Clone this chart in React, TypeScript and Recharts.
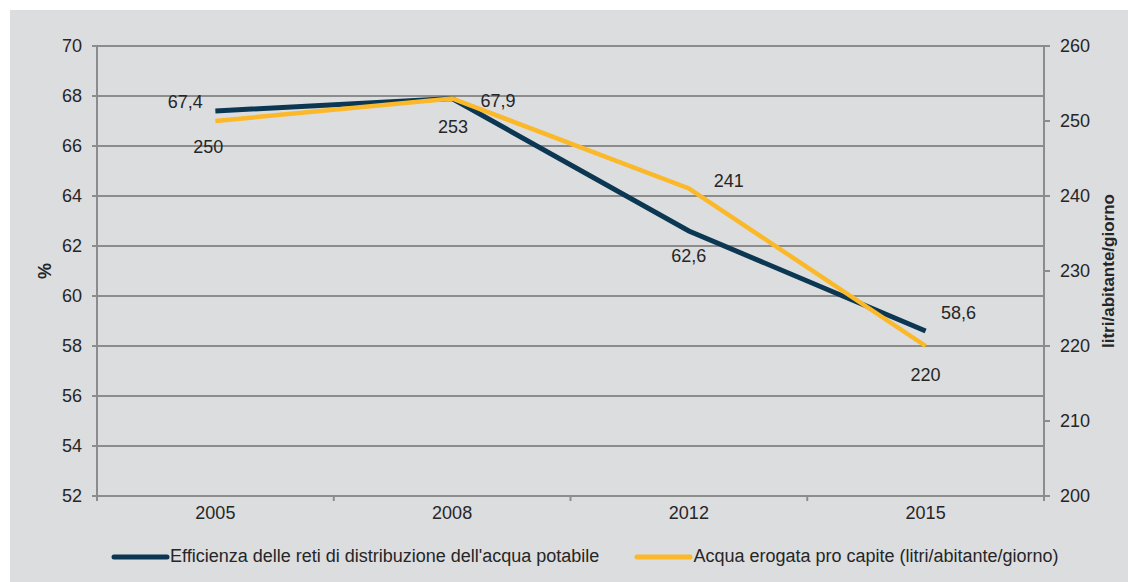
// WaterChart — efficienza reti idriche vs acqua erogata pro capite
import { LineChart, Line, XAxis, YAxis, CartesianGrid, Legend, LabelList } from 'recharts'

const years = ['2005', '2008', '2012', '2015']
const efficiency = [67.4, 67.9, 62.6, 58.6]
const perCapita = [250, 253, 241, 220]
const leftTicks = [52, 54, 56, 58, 60, 62, 64, 66, 68, 70]
const rightTicks = [200, 210, 220, 230, 240, 250, 260]

const effName = "Efficienza delle reti di distribuzione dell'acqua potabile"
const capName = 'Acqua erogata pro capite (litri/abitante/giorno)'

// each year sits in the middle of its category slot (Excel style)
const data = years.map((year, i) => ({
  pos: i + 0.5,
  year,
  eff: efficiency[i],
  cap: perCapita[i],
}))
// slot edges get a tick mark, slot centres get the year label
const xTicks = years.flatMap((_, i) => [i, i + 0.5]).concat(years.length)

const FONT = '"Liberation Sans", Arial, sans-serif'
const TEXT = '#262626'
const GRID = '#8c8c8c'
const NAVY = '#0b3752'
const GOLD = '#fbb829'
const FS = 18

// label offsets per point
const effOffsets = [
  [-30, -9],
  [46, 2],
  [0, 25],
  [33, -18],
]
const capOffsets = [
  [-7, 26],
  [1, 28],
  [40, -8],
  [0, 29],
]

function makeLabel(offsets: number[][]) {
  return (props: any) => {
    const { x, y, value, index } = props
    const [dx, dy] = offsets[index] ?? [0, 0]
    return (
      <text
        x={x + dx}
        y={y + dy}
        textAnchor="middle"
        dominantBaseline="central"
        fontSize={FS}
        fill={TEXT}
        fontFamily={FONT}
      >
        {typeof value === 'number' && !Number.isInteger(value) ? String(value).replace('.', ',') : value}
      </text>
    )
  }
}

// rotated axis title, centred on the plot height; `at` is the distance from the axis box's left edge
function axisTitle(text: string, at: number, size: number) {
  return (props: any) => {
    const { x, y, height } = props.viewBox
    const cx = x + at
    const cy = y + height / 2
    return (
      <text
        x={cx}
        y={cy}
        transform={`rotate(-90 ${cx} ${cy})`}
        textAnchor="middle"
        dominantBaseline="central"
        fontSize={size}
        fontWeight="bold"
        fill={TEXT}
        fontFamily={FONT}
      >
        {text}
      </text>
    )
  }
}

function XTick(props: any) {
  const { x, y, payload } = props
  const v = payload.value as number
  if (Number.isInteger(v)) {
    return <line x1={x} x2={x} y1={y} y2={y + 5} stroke={GRID} strokeWidth={2} />
  }
  return (
    <text x={x} y={y + 23} textAnchor="middle" fontSize={FS} fill={TEXT} fontFamily={FONT}>
      {years[Math.floor(v)]}
    </text>
  )
}

function LegendContent() {
  const items = [
    { name: effName, color: NAVY },
    { name: capName, color: GOLD },
  ]
  return (
    <div style={{ display: 'flex', paddingLeft: 111, gap: 35, fontFamily: FONT, fontSize: FS, color: TEXT }}>
      {items.map((it) => (
        <div key={it.name} style={{ display: 'flex', alignItems: 'center' }}>
          <svg width={59} height={10}>
            <line x1={3} y1={5} x2={56} y2={5} stroke={it.color} strokeWidth={5} strokeLinecap="round" />
          </svg>
          <span>{it.name}</span>
        </div>
      ))}
    </div>
  )
}

export default function App() {
  return (
    <div style={{ position: 'absolute', left: 0, top: 0, width: 1128, height: 582, background: '#ffffff' }}>
      <div style={{ position: 'absolute', left: 10, top: 10, width: 1118, height: 572, background: '#dcdddf' }} />
      <div style={{ position: 'absolute', left: 0, top: 0 }}>
        <LineChart
          width={1128}
          height={582}
          data={data}
          margin={{ top: 46, right: 14, bottom: 56, left: 37 }}
          style={{ fontFamily: FONT }}
        >
          <CartesianGrid vertical={false} stroke={GRID} strokeWidth={2} yAxisId="left" />
          <XAxis
            dataKey="pos"
            type="number"
            domain={[0, years.length]}
            ticks={xTicks}
            interval={0}
            axisLine={{ stroke: GRID, strokeWidth: 2 }}
            tickLine={false}
            tickSize={0}
            tickMargin={0}
            tick={<XTick />}
            height={30}
          />
          <YAxis
            yAxisId="left"
            domain={[52, 70]}
            ticks={leftTicks}
            width={60}
            axisLine={{ stroke: GRID, strokeWidth: 2 }}
            tickLine={{ stroke: GRID, strokeWidth: 2 }}
            tickSize={5}
            tickMargin={10}
            tick={{ fontSize: FS, fill: TEXT }}
            label={{ content: axisTitle('%', 8, FS) }}
          />
          <YAxis
            yAxisId="right"
            orientation="right"
            domain={[200, 260]}
            ticks={rightTicks}
            width={70}
            axisLine={{ stroke: GRID, strokeWidth: 2 }}
            tickLine={{ stroke: GRID, strokeWidth: 2 }}
            tickSize={6}
            tickMargin={10}
            tick={{ fontSize: FS, fill: TEXT, textAnchor: 'start' }}
            label={{ content: axisTitle('litri/abitante/giorno', 64, 17) }}
          />
          <Legend
            verticalAlign="middle"
            content={<LegendContent />}
            wrapperStyle={{ top: 546, left: 0, width: 1128 }}
          />
          <Line
            yAxisId="left"
            dataKey="eff"
            name={effName}
            stroke={NAVY}
            strokeWidth={5}
            dot={false}
            isAnimationActive={false}
          >
            <LabelList dataKey="eff" content={makeLabel(effOffsets)} />
          </Line>
          <Line
            yAxisId="right"
            dataKey="cap"
            name={capName}
            stroke={GOLD}
            strokeWidth={4.5}
            dot={false}
            isAnimationActive={false}
          >
            <LabelList dataKey="cap" content={makeLabel(capOffsets)} />
          </Line>
        </LineChart>
      </div>
    </div>
  )
}
